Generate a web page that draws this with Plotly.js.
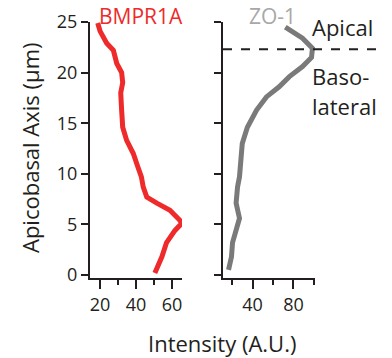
<!DOCTYPE html>
<html><head><meta charset="utf-8">
<script src="https://cdn.plot.ly/plotly-3.0.1.min.js"></script>
<style>html,body{margin:0;padding:0;background:#fff;}#chart{width:392px;height:358px;}</style>
</head><body><div id="chart"></div>
<script>
// BMPR1A profile: intensity (x) vs apicobasal position (y, µm)
const bmprY = [24.9, 24.1, 22.9, 22.2, 20.9, 20.0, 19.0, 18.0, 16.3, 14.6, 13.3, 12.0, 10.7, 9.7, 8.7, 7.7, 7.1, 6.4, 5.4, 5.1, 4.4, 3.2, 1.8, 0.5, 0.2];
const bmprX = [18.7, 20.0, 23.7, 27.4, 29.3, 32.0, 32.6, 31.5, 32.0, 32.6, 34.8, 38.5, 41.0, 43.0, 44.0, 46.0, 51.6, 58.9, 64.4, 65.5, 61.7, 57.0, 54.4, 51.7, 50.5];
// ZO-1 profile
const zoY = [24.5, 24.0, 23.4, 22.4, 21.5, 20.6, 19.6, 18.6, 17.6, 16.3, 14.6, 13.0, 11.4, 9.7, 8.7, 7.1, 5.6, 4.4, 3.2, 1.8, 0.5];
const zoX = [72, 79, 88.8, 98.5, 97.6, 88.8, 76, 66, 53.6, 44, 35, 30, 29, 27.3, 25.4, 24, 27.3, 24, 20.5, 19.5, 16.6];
// Apical / basolateral boundary (µm)
const boundaryY = 22.3;
const seriesNames = ["BMPR1A", "ZO-1"];

const W = 392, H = 358;
const px = v => v / W, py = v => 1 - v / H;
const FONT = "Open Sans";

const axisCommon = {
  showgrid: false, zeroline: false, showline: true, linecolor: "#231f20", linewidth: 2,
  ticks: "outside", tickcolor: "#231f20", tickwidth: 2,
  tickfont: {family: FONT, size: 18, color: "#231f20"}
};

const data = [
  {x: bmprX, y: bmprY, xaxis: "x", yaxis: "y", type: "scatter", mode: "lines",
   line: {color: "#ee2a2a", width: 5}, name: seriesNames[0]},
  {x: zoX, y: zoY, xaxis: "x2", yaxis: "y2", type: "scatter", mode: "lines",
   line: {color: "#7a7a7a", width: 5}, name: seriesNames[1]}
];

const layout = {
  width: W, height: H, margin: {l: 0, r: 0, t: 0, b: 0},
  paper_bgcolor: "#fff", plot_bgcolor: "rgba(0,0,0,0)", showlegend: false,
  xaxis: Object.assign({}, axisCommon, {domain: [px(90), px(182)], range: [14.4, 65.6], anchor: "y",
    tickvals: [20, 40, 60], ticklen: 9,
    minor: {tickvals: [30, 50], ticklen: 5, tickwidth: 2, tickcolor: "#231f20", ticks: "outside"}}),
  yaxis: Object.assign({}, axisCommon, {domain: [py(278), py(22)], range: [-0.3, 25], anchor: "x",
    tickvals: [0, 5, 10, 15, 20, 25], ticklen: 7}),
  xaxis2: Object.assign({}, axisCommon, {domain: [px(223), px(315)], range: [11.2, 101], anchor: "y2",
    tickvals: [40, 80], ticklen: 9,
    minor: {tickvals: [20, 60, 100], ticklen: 5, tickwidth: 2, tickcolor: "#231f20", ticks: "outside"}}),
  yaxis2: Object.assign({}, axisCommon, {domain: [py(278), py(22)], range: [-0.3, 25], anchor: "x2",
    tickvals: [0, 5, 10, 15, 20, 25], ticklen: 7, showticklabels: false}),
  shapes: [
    {type: "line", xref: "paper", yref: "y2", x0: px(223), x1: px(378), y0: boundaryY, y1: boundaryY,
     line: {color: "#231f20", width: 2, dash: "dash"}}
  ],
  annotations: [
    {text: seriesNames[0], xref: "paper", yref: "paper", x: px(141), y: py(0), showarrow: false,
     xanchor: "center", yanchor: "top", font: {family: FONT, size: 21, color: "#ee2a2a"}},
    {text: seriesNames[1], xref: "paper", yref: "paper", x: px(272), y: py(0), showarrow: false,
     xanchor: "center", yanchor: "top", font: {family: FONT, size: 21, color: "#a8a8a8"}},
    {text: "Apical", xref: "paper", yref: "paper", x: px(310), y: py(27), showarrow: false,
     xanchor: "left", yanchor: "middle", font: {family: FONT, size: 22, color: "#231f20"}},
    {text: "Baso-", xref: "paper", yref: "paper", x: px(310), y: py(76), showarrow: false,
     xanchor: "left", yanchor: "middle", font: {family: FONT, size: 22, color: "#231f20"}},
    {text: "lateral", xref: "paper", yref: "paper", x: px(310), y: py(106), showarrow: false,
     xanchor: "left", yanchor: "middle", font: {family: FONT, size: 22, color: "#231f20"}},
    {text: "Apicobasal Axis (μm)", xref: "paper", yref: "paper", x: px(30), y: py(148), showarrow: false,
     textangle: -90, xanchor: "center", yanchor: "middle", font: {family: FONT, size: 22, color: "#231f20"}},
    {text: "Intensity (A.U.)", xref: "paper", yref: "paper", x: px(222), y: py(343), showarrow: false,
     xanchor: "center", yanchor: "middle", font: {family: FONT, size: 22, color: "#231f20"}}
  ]
};

Plotly.newPlot("chart", data, layout, {displayModeBar: false, staticPlot: true});
</script>
</body></html>
